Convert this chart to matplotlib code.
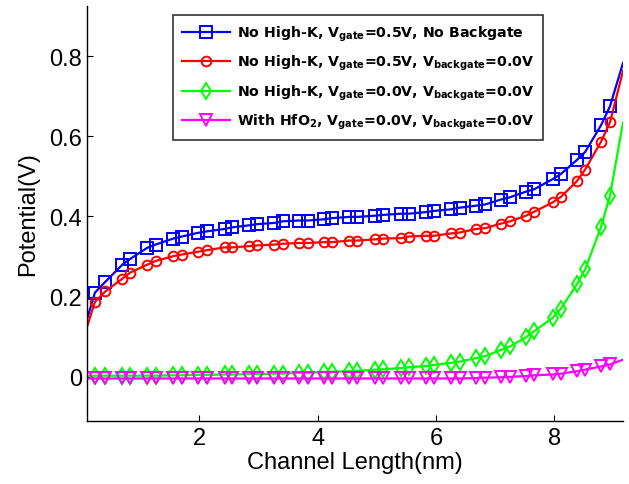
import matplotlib
matplotlib.use("Agg")
import matplotlib.pyplot as plt

# ---- data ----
x_pts = [0.11, 0.235, 0.41, 0.70, 0.83, 1.12, 1.26, 1.56, 1.70, 1.97, 2.13, 2.43, 2.56,
         2.84, 2.98, 3.27, 3.41, 3.68, 3.83, 4.11, 4.25, 4.53, 4.67, 4.97, 5.11,
         5.40, 5.54, 5.83, 5.97, 6.26, 6.40, 6.68, 6.83, 7.09, 7.25, 7.52, 7.66,
         7.97, 8.11, 8.38, 8.52, 8.79, 8.94, 9.16]

blue_y = [0.148, 0.210, 0.237, 0.280, 0.294, 0.322, 0.330, 0.345, 0.350, 0.359, 0.363,
          0.369, 0.373, 0.378, 0.381, 0.384, 0.388, 0.390, 0.390, 0.393, 0.396,
          0.399, 0.399, 0.402, 0.404, 0.407, 0.407, 0.411, 0.414, 0.418, 0.422,
          0.427, 0.430, 0.442, 0.448, 0.462, 0.468, 0.493, 0.506, 0.541, 0.561,
          0.628, 0.675, 0.783]

red_y = [0.128, 0.187, 0.213, 0.245, 0.260, 0.280, 0.289, 0.301, 0.305, 0.312, 0.316,
         0.323, 0.323, 0.326, 0.328, 0.330, 0.332, 0.334, 0.334, 0.336, 0.336,
         0.340, 0.340, 0.343, 0.345, 0.346, 0.350, 0.352, 0.352, 0.358, 0.360,
         0.369, 0.371, 0.382, 0.388, 0.402, 0.412, 0.435, 0.449, 0.488, 0.517,
         0.587, 0.635, 0.763]

green_y = [0.002, 0.003, 0.003, 0.003, 0.003, 0.003, 0.003, 0.004, 0.004, 0.005, 0.005,
           0.006, 0.006, 0.007, 0.007, 0.008, 0.008, 0.010, 0.010, 0.012, 0.013,
           0.014, 0.015, 0.018, 0.019, 0.022, 0.024, 0.027, 0.030, 0.035, 0.038,
           0.047, 0.052, 0.067, 0.076, 0.099, 0.114, 0.147, 0.170, 0.231, 0.268,
           0.375, 0.452, 0.635]

magenta_y = [-0.004, -0.004, -0.004, -0.004, -0.004, -0.004, -0.004, -0.004, -0.004,
             -0.004, -0.004, -0.004, -0.004, -0.004, -0.004, -0.004, -0.004, -0.004,
             -0.004, -0.004, -0.004, -0.004, -0.004, -0.004, -0.004, -0.004, -0.004,
             -0.004, -0.004, -0.004, -0.004, -0.003, -0.002, -0.001, 0.000, 0.002,
             0.004, 0.006, 0.008, 0.014, 0.018, 0.026, 0.031, 0.043]

labels = [
    r'No High-K, V$_{gate}$=0.5V, No Backgate',
    r'No High-K, V$_{gate}$=0.5V, V$_{backgate}$=0.0V',
    r'No High-K, V$_{gate}$=0.0V, V$_{backgate}$=0.0V',
    r'With HfO$_2$, V$_{gate}$=0.0V, V$_{backgate}$=0.0V',
]

x_ticks = [2, 4, 6, 8]
y_ticks = [0, 0.2, 0.4, 0.6, 0.8]
y_ticklabels = ['0', '0.2', '0.4', '0.6', '0.8']

# ---- figure ----
plt.rcParams['mathtext.default'] = 'bf'
fig = plt.figure(figsize=(6.29, 4.85), dpi=100)
ax = fig.add_axes([0.1391, 0.1299, 0.8514, 0.8557])

series = [
    (blue_y, '#0000ff', 's', 8.0),
    (red_y, '#ff0000', 'o', 7.0),
    (green_y, '#00ff00', 'd', 8.0),
    (magenta_y, '#ff00ff', 'v', 8.0),
]
for (yv, col, mk, ms), lab in zip(series, labels):
    ax.plot(x_pts, yv, color=col, lw=1.6, marker=mk, ms=ms, mfc='none',
            mec=col, mew=1.4, markevery=slice(1, len(x_pts) - 1), label=lab)

ax.set_xlim(0.11, 9.16)
ax.set_ylim(-0.11, 0.925)
ax.set_xticks(x_ticks)
ax.set_xticklabels([str(t) for t in x_ticks])
ax.set_yticks(y_ticks)
ax.set_yticklabels(y_ticklabels)

for s in ['top', 'right']:
    ax.spines[s].set_visible(False)
for s in ['left', 'bottom']:
    ax.spines[s].set_linewidth(1.0)

ax.tick_params(direction='in', length=4.5, width=0.8, labelsize=17, pad=4)
for t in ax.get_xticklabels() + ax.get_yticklabels():
    t.set_family('Liberation Sans')

ax.set_xlabel('Channel Length(nm)', fontsize=17, family='Liberation Sans', labelpad=2)
ax.set_ylabel('Potential(V)', fontsize=17, family='Liberation Sans', labelpad=7)

leg = ax.legend(loc='upper left', bbox_to_anchor=(0.16, 0.978), borderaxespad=0,
                prop={'family': 'DejaVu Sans', 'weight': 'bold', 'size': 10.2},
                handlelength=3.4, handletextpad=0.5, labelspacing=0.72,
                borderpad=0.6, fancybox=False, framealpha=1)
leg.get_frame().set_edgecolor('#333333')
leg.get_frame().set_linewidth(1.2)

fig.savefig('out.png', dpi=100)
